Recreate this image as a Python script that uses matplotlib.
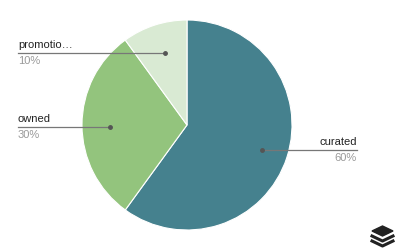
import matplotlib
matplotlib.use("Agg")
import matplotlib.pyplot as plt

plt.rcParams['font.family'] = ['Liberation Sans', 'DejaVu Sans']

labels = ['curated', 'owned', 'promotio…']
shares = [60, 30, 10]
pct_labels = ['60%', '30%', '10%']
colors = ['#45818e', '#93c47d', '#d9ead3']

fig = plt.figure(figsize=(4, 2.5), dpi=100)
ax = fig.add_axes([0, 0, 1, 1])
ax.set_xlim(0, 400)
ax.set_ylim(0, 250)
ax.set_aspect('equal')
ax.axis('off')

ax.pie(shares, colors=colors, startangle=90, counterclock=False,
       center=(187, 125), radius=105,
       wedgeprops=dict(edgecolor='white', linewidth=0.8))
ax.set_xlim(0, 400)
ax.set_ylim(0, 250)

# callouts: (dot x, dot y, line end x, text side)
callouts = [
    (262, 100, 357, 'right'),
    (110, 123, 18, 'left'),
    (165, 197, 18, 'left'),
]
for (dx, dy, ex, side), lab, pct in zip(callouts, labels, pct_labels):
    ax.plot([dx, ex], [dy, dy], color='#777777', lw=0.9)
    ax.plot(dx, dy, 'o', color='#555555', ms=2.5)
    ax.text(ex, dy + 3, lab, ha=side, va='bottom', fontsize=8, color='#222222')
    ax.text(ex, dy - 3, pct, ha=side, va='top', fontsize=8, color='#999999')

# small layered logo bottom right
ax.fill([372, 382.5, 393, 382.5], [19, 24, 19, 14], color='#222222')
ax.plot([372, 382.5, 393], [14, 9, 14], color='#222222', lw=2.2)
ax.plot([372, 382.5, 393], [9, 4, 9], color='#222222', lw=2.2)

fig.savefig('out.png', dpi=100)
